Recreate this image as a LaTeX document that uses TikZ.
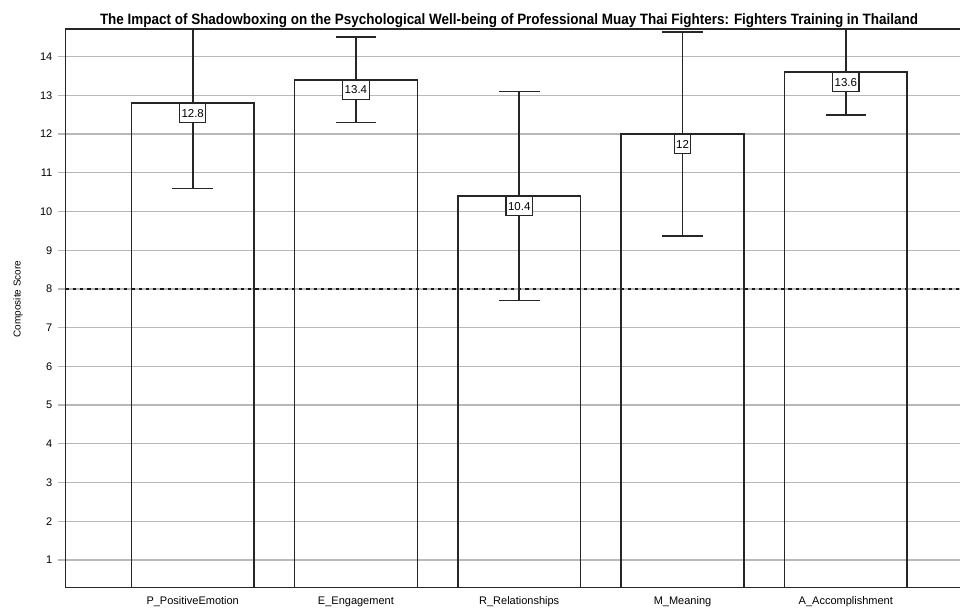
\documentclass[tikz,border=0pt]{standalone}
\usepackage{fontspec}
\setmainfont{Liberation Sans}
\usepackage{graphicx}
\begin{document}
\begin{tikzpicture}[x=1pt,y=-1pt,
  gridline/.style={draw=black!28,line width=1.3pt},
  frameline/.style={draw=black!85,line width=1.6pt},
  barbox/.style={draw=black!85,line width=1.5pt},
  errbar/.style={draw=black!85,line width=1.6pt},
  refline/.style={draw=black!90,line width=1.3pt,dash pattern=on 3.3pt off 4pt},
  valbox/.style={draw=black!85,fill=white,line width=1.1pt,font=\fontsize{11.5}{12}\selectfont,
    inner xsep=2pt,inner ysep=0pt,minimum height=19pt,anchor=north},
  ticklab/.style={font=\fontsize{11}{12}\selectfont,anchor=east,inner sep=0pt},
  catlab/.style={font=\fontsize{11}{12}\selectfont,anchor=base,inner sep=0pt}]
\useasboundingbox (0,0) rectangle (960,608);
% value -> vertical position
\def\yv#1{598.7-38.72*(#1)}
\def\plotL{65.5}
\def\plotT{28.7}
\def\plotB{587.5}

% grid lines, ticks and tick labels
\foreach \v in {1,...,14}{
  \draw[gridline] (58,{\yv{\v}}) -- (960,{\yv{\v}});
  \node[ticklab] (t\v) at (52.5,{\yv{\v}}) {\v};
}

% reference line at 8
\coordinate (refL) at (\plotL,{\yv{8}});
\coordinate (refR) at (960,{\yv{8}});
\draw[refline] (refL) -- (refR);

% bars with error bars and value boxes
\begin{scope}
\clip (\plotL,\plotT) rectangle (960,\plotB);
\foreach \n/\cx/\m/\e in {
  P/192.7/12.8/2.21,
  E/355.9/13.4/1.1,
  R/519.2/10.4/2.7,
  M/682.5/12/2.63,
  A/845.8/13.6/1.1}{
  \draw[barbox] ({\cx-61.4},\plotB) rectangle ({\cx+61.4},{\yv{\m}});
  \coordinate (\n hi) at (\cx,{\yv{\m+\e}});
  \coordinate (\n lo) at (\cx,{\yv{\m-\e}});
  \draw[errbar] (\n hi) -- (\n lo);
  \draw[errbar] ([xshift=-20.3pt]\n hi) -- ([xshift=20.3pt]\n hi);
  \draw[errbar] ([xshift=-20.3pt]\n lo) -- ([xshift=20.3pt]\n lo);
  \node[valbox] (\n val) at (\cx,{\yv{\m}}) {\m};
}
\end{scope}
\foreach \n/\cx/\lab in {P/192.7/P\_PositiveEmotion,E/355.9/E\_Engagement,
  R/519.2/R\_Relationships,M/682.5/M\_Meaning,A/845.8/A\_Accomplishment}{
  \node[catlab] (\n cat) at (\cx,604.5) {\lab};
}

% axes frame
\draw[frameline] (960,\plotT) -- (\plotL,\plotT) -- (\plotL,\plotB) -- (960,\plotB);

% axis title and chart title
\node[rotate=90,font=\fontsize{10}{12}\selectfont,inner sep=0pt] (ylab) at (18,299) {Composite Score};
\node[anchor=base,inner sep=0pt] (title) at (509,24.5)
  {\resizebox{818pt}{\height}{\fontsize{15}{16}\selectfont\bfseries The Impact of Shadowboxing on the Psychological Well-being of Professional Muay Thai Fighters: Fighters Training in Thailand}};
\end{tikzpicture}
\end{document}
